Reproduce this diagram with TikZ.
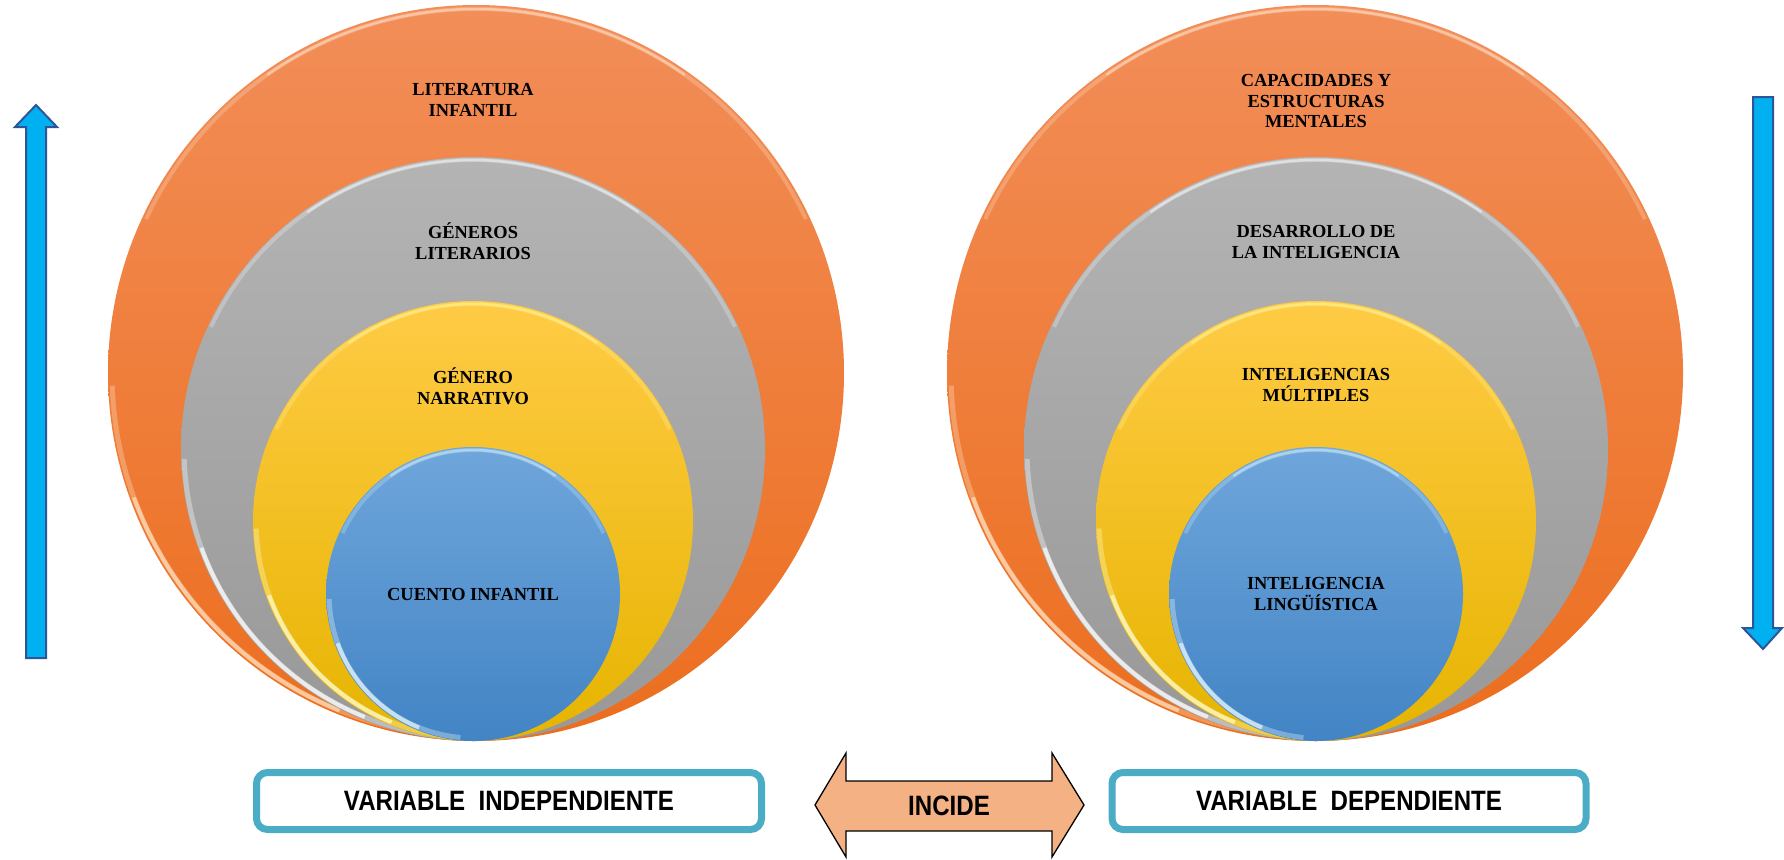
\documentclass[tikz,border=0pt]{standalone}
\usepackage{fontspec}
\setmainfont{Liberation Serif}
\newfontfamily\narrowsans[FakeStretch=0.86]{Liberation Sans}
\usetikzlibrary{calc}
\definecolor{orTop}{HTML}{F28E59}
\definecolor{orBot}{HTML}{EC6E1E}
\definecolor{grTop}{HTML}{B4B4B4}
\definecolor{grBot}{HTML}{989898}
\definecolor{ylTop}{HTML}{FFCB45}
\definecolor{ylMid}{HTML}{FFC200}
\definecolor{ylBot}{HTML}{E6B400}
\definecolor{blTop}{HTML}{6FA6DB}
\definecolor{blBot}{HTML}{4284C5}
\definecolor{boxTeal}{HTML}{4BACC6}
\definecolor{peach}{HTML}{F4B183}
\definecolor{cyanfill}{HTML}{00B0F0}
\definecolor{darkblue}{HTML}{2F5597}
% #1 node, #2 radius, #3 top rim colour, #4 lower-left rim colour
\newcommand\glossarc[4]{%
  \draw[line width=4pt, #3, opacity=0.25] (#1.center) ++(205:#2) arc[start angle=205, end angle=335, radius=#2];
  \draw[line width=2.5pt, #3, opacity=0.45] (#1.center) ++(235:#2) arc[start angle=235, end angle=305, radius=#2];
  \draw[line width=5pt, #4, opacity=0.35] (#1.center) ++(95:#2) arc[start angle=95, end angle=178, radius=#2];
  \draw[line width=4pt, #4, opacity=0.7] (#1.center) ++(112:#2) arc[start angle=112, end angle=160, radius=#2];
}
\begin{document}
\begin{tikzpicture}[x=1pt,y=-1pt,
  disc/.style={circle, inner sep=0pt, draw=none},
  orangedisc/.style={disc, top color=orTop, bottom color=orBot},
  greydisc/.style={disc, top color=grTop, bottom color=grBot},
  yellowdisc/.style={disc, top color=ylTop, middle color=ylMid, bottom color=ylBot},
  bluedisc/.style={disc, top color=blTop, bottom color=blBot},
  lbl/.style={align=center, text=black, inner sep=0pt, font=\fontsize{18.4}{20.5}\selectfont\bfseries},
  varbox/.style={draw=boxTeal, line width=7pt, rounded corners=11pt, fill=white, inner sep=0pt},
  vtxt/.style={font=\narrowsans\fontsize{28}{30}\selectfont\bfseries, inner sep=0pt},
  vertarrow/.style={fill=cyanfill, draw=darkblue, line width=2pt, line join=miter},
  dblarrow/.style={fill=peach, draw=black, line width=1.3pt, line join=miter}
]
\useasboundingbox (0,0) rectangle (1784,859);

% ---------- left set ----------
\node[orangedisc, minimum size=736pt] (Lo) at (476,373) {};
\glossarc{Lo}{364}{orange!15!white}{orange!25!white}
\node[greydisc, minimum size=584pt] (Lg) at (473,449) {};
\glossarc{Lg}{289}{white}{white}
\node[yellowdisc, minimum size=440pt] (Ly) at (473,521) {};
\glossarc{Ly}{217}{yellow!35!white}{yellow!20!white}
\node[bluedisc, minimum size=294pt] (Lb) at (473,594) {};
\glossarc{Lb}{144}{cyan!15!white}{cyan!10!white}

\node[lbl] (tLo) at (473,100) {LITERATURA\\INFANTIL};
\node[lbl] (tLg) at (473,241) {GÉNEROS\\LITERARIOS};
\node[lbl] (tLy) at (473,386) {GÉNERO\\NARRATIVO};
\node[lbl] (tLb) at (473,594) {CUENTO INFANTIL};

% ---------- right set ----------
\node[orangedisc, minimum size=736pt] (Ro) at (1315,373) {};
\glossarc{Ro}{364}{orange!15!white}{orange!25!white}
\node[greydisc, minimum size=584pt] (Rg) at (1316,449) {};
\glossarc{Rg}{289}{white}{white}
\node[yellowdisc, minimum size=440pt] (Ry) at (1316,521) {};
\glossarc{Ry}{217}{yellow!35!white}{yellow!20!white}
\node[bluedisc, minimum size=294pt] (Rb) at (1316,594) {};
\glossarc{Rb}{144}{cyan!15!white}{cyan!10!white}

\node[lbl] (tRo) at (1316,101) {CAPACIDADES Y\\ESTRUCTURAS\\MENTALES};
\node[lbl] (tRg) at (1316,242) {DESARROLLO DE\\LA INTELIGENCIA};
\node[lbl] (tRy) at (1316,385) {INTELIGENCIAS\\MÚLTIPLES};
\node[lbl] (tRb) at (1316,594) {INTELIGENCIA\\LINGÜÍSTICA};

% ---------- vertical arrows ----------
\draw[vertarrow] (26,658) -- (26,127) -- (15,127) -- (36,105) -- (57,127) -- (46,127) -- (46,658) -- cycle;
\draw[vertarrow] (1753,97) -- (1773,97) -- (1773,628) -- (1782,628) -- (1763,649) -- (1743,628) -- (1753,628) -- cycle;

% ---------- bottom boxes ----------
\node[varbox, minimum width=505pt, minimum height=57pt] (vi) at (509,801) {};
\node[vtxt] (vit) at (vi.center) {VARIABLE\ \ INDEPENDIENTE};
\node[varbox, minimum width=474pt, minimum height=57pt] (vd) at (1349,801) {};
\node[vtxt] (vdt) at (vd.center) {VARIABLE\ \ DEPENDIENTE};

% ---------- double arrow ----------
\draw[dblarrow] (815,805) -- (846,753) -- (846,781) -- (1052,781) -- (1052,753) -- (1084,805)
   -- (1052,857) -- (1052,831) -- (846,831) -- (846,857) -- cycle;
\node[vtxt] (inc) at (949,806) {INCIDE};
\end{tikzpicture}
\end{document}
